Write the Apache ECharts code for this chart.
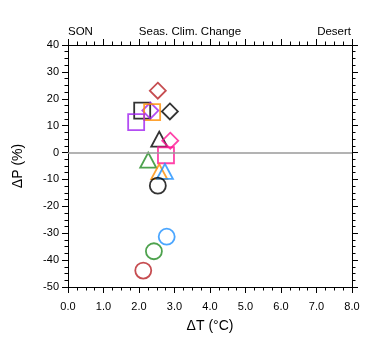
<!DOCTYPE html>
<html>
<head>
<meta charset="utf-8">
<script src="https://cdn.jsdelivr.net/npm/echarts@6/dist/echarts.min.js"></script>
<style>html,body{margin:0;padding:0;background:#fff;}#c{width:380px;height:355px;}</style>
</head>
<body>
<div id="c"></div>
<script>
// Data
const xTicks = ['0.0','1.0','2.0','3.0','4.0','5.0','6.0','7.0','8.0'];
const yTicks = [-50,-40,-30,-20,-10,0,10,20,30,40];
const dT = [2.53, 2.09, 2.32, 2.37, 2.87, 1.92, 2.57, 2.88, 2.76, 2.26, 2.57, 2.73, 2.53, 2.78, 2.42, 2.12];
const dP = [23.0, 15.6, 15.6, 15.0, 15.3, 11.3, 5.0, 4.4, -1.0, -2.8, -7.1, -7.0, -12.3, -31.3, -36.7, -43.9];
// Marker styles (one per point)
const markerShape = ['diamond','rect','diamond','rect','diamond','rect','triangle','diamond','rect','triangle','triangle','triangle','circle','circle','circle','circle'];
const markerColor = ['#b82025','#000000','#a020f0','#ff8c00','#000000','#a020f0','#000000','#ff1493','#ff1493','#228b22','#ff8c00','#1e90ff','#000000','#1e90ff','#228b22','#b82025'];

const FONT = 'Liberation Sans, Arial, Helvetica, sans-serif';

const series = dT.map((x, i) => ({
  type: 'scatter',
  xAxisIndex: 0, yAxisIndex: 0,
  symbol: markerShape[i],
  symbolSize: markerShape[i] === 'triangle' ? [16, 15] : 16,
  itemStyle: { color: 'rgba(0,0,0,0)', borderColor: markerColor[i], borderWidth: 1.8 },
  data: [[x, dP[i]]],
  silent: true,
  z: 3
}));
series.unshift({
  type: 'scatter', data: [], xAxisIndex: 0, yAxisIndex: 0,
  markLine: {
    silent: true, symbol: 'none', label: { show: false },
    lineStyle: { color: '#9a9a9a', width: 1.5, type: 'solid' },
    data: [{ yAxis: 0 }]
  },
  z: 1
});

function baseAxis(extra) {
  return Object.assign({
    axisLine: { show: true, onZero: false, lineStyle: { color: '#000', width: 1 } },
    axisTick: { show: true, inside: false, length: 6, lineStyle: { color: '#000', width: 1 } },
    minorTick: { show: true, splitNumber: 4, length: 3.5, lineStyle: { color: '#000', width: 1 } },
    splitLine: { show: false },
    minorSplitLine: { show: false }
  }, extra);
}

const option = {
  animation: false,
  backgroundColor: '#fff',
  title: [
    { text: 'SON', left: 68, top: 26, padding: 0, textStyle: { fontFamily: FONT, fontSize: 11.5, fontWeight: 'normal', color: '#000' } },
    { text: 'Seas. Clim. Change', left: 'center', top: 26, padding: 0, textStyle: { fontFamily: FONT, fontSize: 11.5, fontWeight: 'normal', color: '#000' } },
    { text: 'Desert', right: 29, top: 26, padding: 0, textStyle: { fontFamily: FONT, fontSize: 11.5, fontWeight: 'normal', color: '#000' } }
  ],
  grid: { left: 68, right: 28, top: 45, bottom: 68 },
  xAxis: [
    baseAxis({
      type: 'value', position: 'bottom', min: 0, max: 8, interval: 1,
      axisLabel: { margin: 14, fontFamily: FONT, fontSize: 11, color: '#000',
        formatter: v => xTicks[Math.round(v)] },
      name: 'ΔT (°C)', nameLocation: 'middle', nameGap: 32,
      nameTextStyle: { fontFamily: FONT, fontSize: 14, color: '#000' }
    }),
    baseAxis({
      type: 'value', position: 'top', min: 0, max: 8, interval: 1,
      axisLabel: { show: false }
    })
  ],
  yAxis: [
    baseAxis({
      type: 'value', position: 'left', min: -50, max: 40, interval: 10,
      axisLabel: { margin: 9, fontFamily: FONT, fontSize: 11, color: '#000',
        formatter: v => String(yTicks[Math.round((v + 50) / 10)]) },
      name: 'ΔP (%)', nameLocation: 'middle', nameGap: 43,
      nameTextStyle: { fontFamily: FONT, fontSize: 14, color: '#000' }
    }),
    baseAxis({
      type: 'value', position: 'right', min: -50, max: 40, interval: 10,
      axisLabel: { show: false }
    })
  ],
  series: series
};

const chart = echarts.init(document.getElementById('c'), null, { renderer: 'canvas' });
chart.setOption(option);
</script>
</body>
</html>
